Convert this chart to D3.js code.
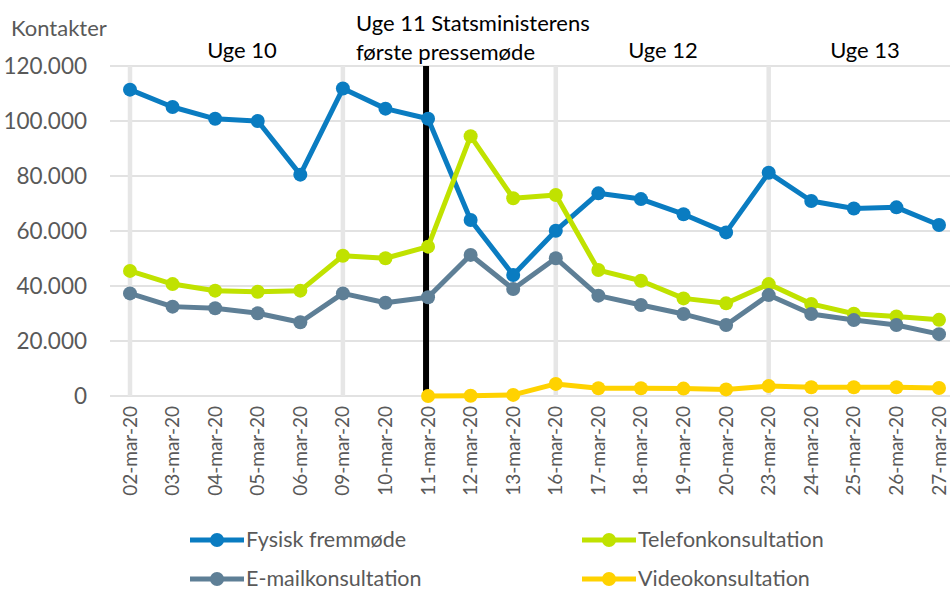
<!DOCTYPE html>
<html>
<head>
<meta charset="utf-8">
<script src="https://cdn.jsdelivr.net/npm/d3@7"></script>
<style>
  body { margin: 0; background: #fff; }
  svg text { font-family: Lato, "Open Sans", sans-serif; }
</style>
</head>
<body>
<svg width="950" height="592"></svg>
<script>
var dates = ["02-mar-20","03-mar-20","04-mar-20","05-mar-20","06-mar-20","09-mar-20","10-mar-20",
   "11-mar-20","12-mar-20","13-mar-20","16-mar-20","17-mar-20","18-mar-20","19-mar-20","20-mar-20",
   "23-mar-20","24-mar-20","25-mar-20","26-mar-20","27-mar-20"];

var fysisk = [111400,105100,100800,100000,80500,111800,104500,100800,64000,44000,60100,
   73700,71600,66100,59500,81200,70900,68200,68600,62200];
var telefon = [45500,40700,38300,37900,38300,51000,50100,54300,94500,71900,73100,
   45800,41900,35500,33700,40700,33500,29900,28900,27700];
var email = [37300,32500,31900,30100,26800,37300,33900,35900,51300,38900,50100,
   36500,33100,29800,25800,36700,29800,27600,25800,22500];
var video = [null,null,null,null,null,null,null,0,100,400,4400,
   2800,2800,2700,2400,3600,3200,3200,3200,2900];

var yTicks = [0,20000,40000,60000,80000,100000,120000];
var weekStarts = ["02-mar-20","09-mar-20","16-mar-20","23-mar-20"];
var pressDate = "11-mar-20";

var series = [
   {name:"Fysisk fremmøde", values:fysisk, color:"#0a7cc1"},
   {name:"Telefonkonsultation", values:telefon, color:"#c0e200"},
   {name:"E-mailkonsultation", values:email, color:"#5e7f96"},
   {name:"Videokonsultation", values:video, color:"#ffd200"}
];

var svg = d3.select("svg");

var x = d3.scalePoint().domain(dates).range([130, 939]);
var y = d3.scaleLinear().domain([0, 120000]).range([396, 66]);

var fmt = function(v){ return v === 0 ? "0" : d3.format(",")(v).replace(/,/g, "."); };

// horizontal grid
svg.append("g").selectAll("line")
   .data(yTicks)
   .enter().append("line")
   .attr("x1", 110).attr("x2", 950)
   .attr("y1", function(d){ return y(d); })
   .attr("y2", function(d){ return y(d); })
   .attr("stroke", "#d9d9d9")
   .attr("stroke-width", 1.5);

// week separators
svg.append("g").selectAll("line")
   .data(weekStarts)
   .enter().append("line")
   .attr("x1", function(d){ return x(d); })
   .attr("x2", function(d){ return x(d); })
   .attr("y1", y(120000)).attr("y2", y(0))
   .attr("stroke", "#e6e6e6")
   .attr("stroke-width", 4.5);

// y labels
svg.append("g").selectAll("text")
   .data(yTicks)
   .enter().append("text")
   .attr("x", 87)
   .attr("y", function(d){ return y(d) + 8; })
   .attr("text-anchor", "end")
   .attr("font-size", 22.5)
   .attr("fill", "#595959")
   .text(fmt);

svg.append("text")
   .attr("x", 11).attr("y", 36)
   .attr("font-size", 22)
   .attr("fill", "#595959")
   .text("Kontakter");

// x labels
svg.append("g").selectAll("text")
   .data(dates)
   .enter().append("text")
   .attr("transform", function(d){ return "translate(" + (x(d) + 6.5) + ",406) rotate(-90)"; })
   .attr("text-anchor", "end")
   .attr("font-size", 19)
   .attr("fill", "#595959")
   .text(function(d){ return d; });

// press conference line
svg.append("line")
   .attr("x1", x(pressDate) - 2).attr("x2", x(pressDate) - 2)
   .attr("y1", y(120000)).attr("y2", y(0))
   .attr("stroke", "#000")
   .attr("stroke-width", 6);

// week labels
var ann = svg.append("g").attr("font-size", 22).attr("fill", "#000");
ann.append("text").attr("x", 242).attr("y", 58).attr("text-anchor", "middle").text("Uge 10");
ann.append("text").attr("x", 356).attr("y", 31).text("Uge 11 Statsministerens");
ann.append("text").attr("x", 356).attr("y", 60).text("første pressemøde");
ann.append("text").attr("x", 663).attr("y", 58).attr("text-anchor", "middle").text("Uge 12");
ann.append("text").attr("x", 865).attr("y", 58).attr("text-anchor", "middle").text("Uge 13");

// lines
var line = d3.line()
   .defined(function(d){ return d != null; })
   .x(function(d, i){ return x(dates[i]); })
   .y(function(d){ return y(d); });

series.forEach(function(s){
   var g = svg.append("g");
   g.append("path")
      .attr("d", line(s.values))
      .attr("fill", "none")
      .attr("stroke", s.color)
      .attr("stroke-width", 5)
      .attr("stroke-linejoin", "round");
   g.selectAll("circle")
      .data(s.values.map(function(v, i){ return {v:v, d:dates[i]}; }).filter(function(p){ return p.v != null; }))
      .enter().append("circle")
      .attr("cx", function(p){ return x(p.d); })
      .attr("cy", function(p){ return y(p.v); })
      .attr("r", 7)
      .attr("fill", s.color);
});

// legend
var legPos = [[190, 540], [582, 540], [190, 579], [582, 579]];
var leg = svg.append("g").selectAll("g")
   .data(series)
   .enter().append("g")
   .attr("transform", function(d, i){ return "translate(" + legPos[i][0] + "," + legPos[i][1] + ")"; });
leg.append("line")
   .attr("x1", 0).attr("x2", 54)
   .attr("stroke", function(d){ return d.color; })
   .attr("stroke-width", 5);
leg.append("circle")
   .attr("cx", 27).attr("r", 7)
   .attr("fill", function(d){ return d.color; });
leg.append("text")
   .attr("x", 56).attr("y", 7)
   .attr("font-size", 21.5)
   .attr("fill", "#595959")
   .text(function(d){ return d.name; });
</script>
</body>
</html>
